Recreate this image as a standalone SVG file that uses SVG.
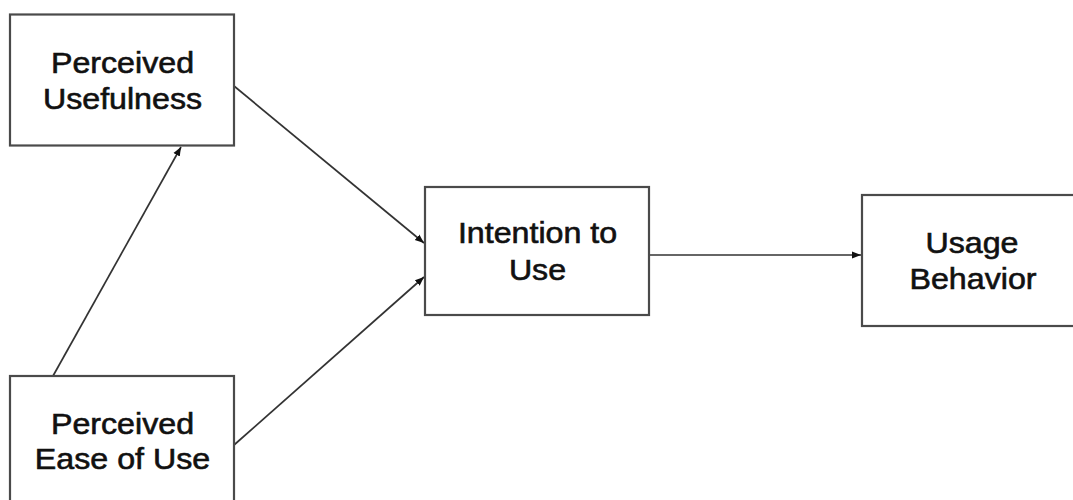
<svg xmlns="http://www.w3.org/2000/svg" width="1073" height="500" viewBox="0 0 1073 500">
  <defs>
    <marker id="arrow" viewBox="0 0 10 10" refX="10" refY="5" markerWidth="9" markerHeight="9" markerUnits="userSpaceOnUse" orient="auto">
      <path d="M0,1 L10,5 L0,9 Z" fill="#111"/>
    </marker>
  </defs>
  <style>
    .box { fill: #fff; stroke: #4a4a4a; stroke-width: 2.2; }
    .label { font-family: "Liberation Sans", Arial, sans-serif; font-size: 29px; fill: #111; stroke: #111; stroke-width: 0.6; text-anchor: middle; }
    .edge { stroke: #333; stroke-width: 1.7; fill: none; marker-end: url(#arrow); }
  </style>
  <rect width="1073" height="500" fill="#fff"/>

  <g id="connectors">
    <line class="edge" x1="234" y1="86" x2="424" y2="243"/>
    <line class="edge" x1="234" y1="445" x2="424" y2="277"/>
    <line class="edge" x1="53" y1="376" x2="181" y2="147"/>
    <line class="edge" x1="649" y1="255" x2="861" y2="255"/>
  </g>

  <g id="perceived-usefulness">
    <rect class="box" x="10" y="14.5" width="224" height="131"/>
    <text class="label" transform="translate(122.5,73) scale(1.11,1)">Perceived</text>
    <text class="label" transform="translate(122.5,108.5) scale(1.11,1)">Usefulness</text>
  </g>

  <g id="perceived-ease-of-use">
    <rect class="box" x="10" y="376" width="224" height="140"/>
    <text class="label" transform="translate(122.5,433.5) scale(1.11,1)">Perceived</text>
    <text class="label" transform="translate(122.5,469) scale(1.11,1)">Ease of Use</text>
  </g>

  <g id="intention-to-use">
    <rect class="box" x="425" y="187" width="224" height="128"/>
    <text class="label" transform="translate(537.5,243) scale(1.11,1)">Intention to</text>
    <text class="label" transform="translate(537.5,279.5) scale(1.11,1)">Use</text>
  </g>

  <g id="usage-behavior">
    <rect class="box" x="862" y="195" width="230" height="131"/>
    <text class="label" transform="translate(972,253) scale(1.11,1)">Usage</text>
    <text class="label" transform="translate(973,289) scale(1.11,1)">Behavior</text>
  </g>
</svg>
